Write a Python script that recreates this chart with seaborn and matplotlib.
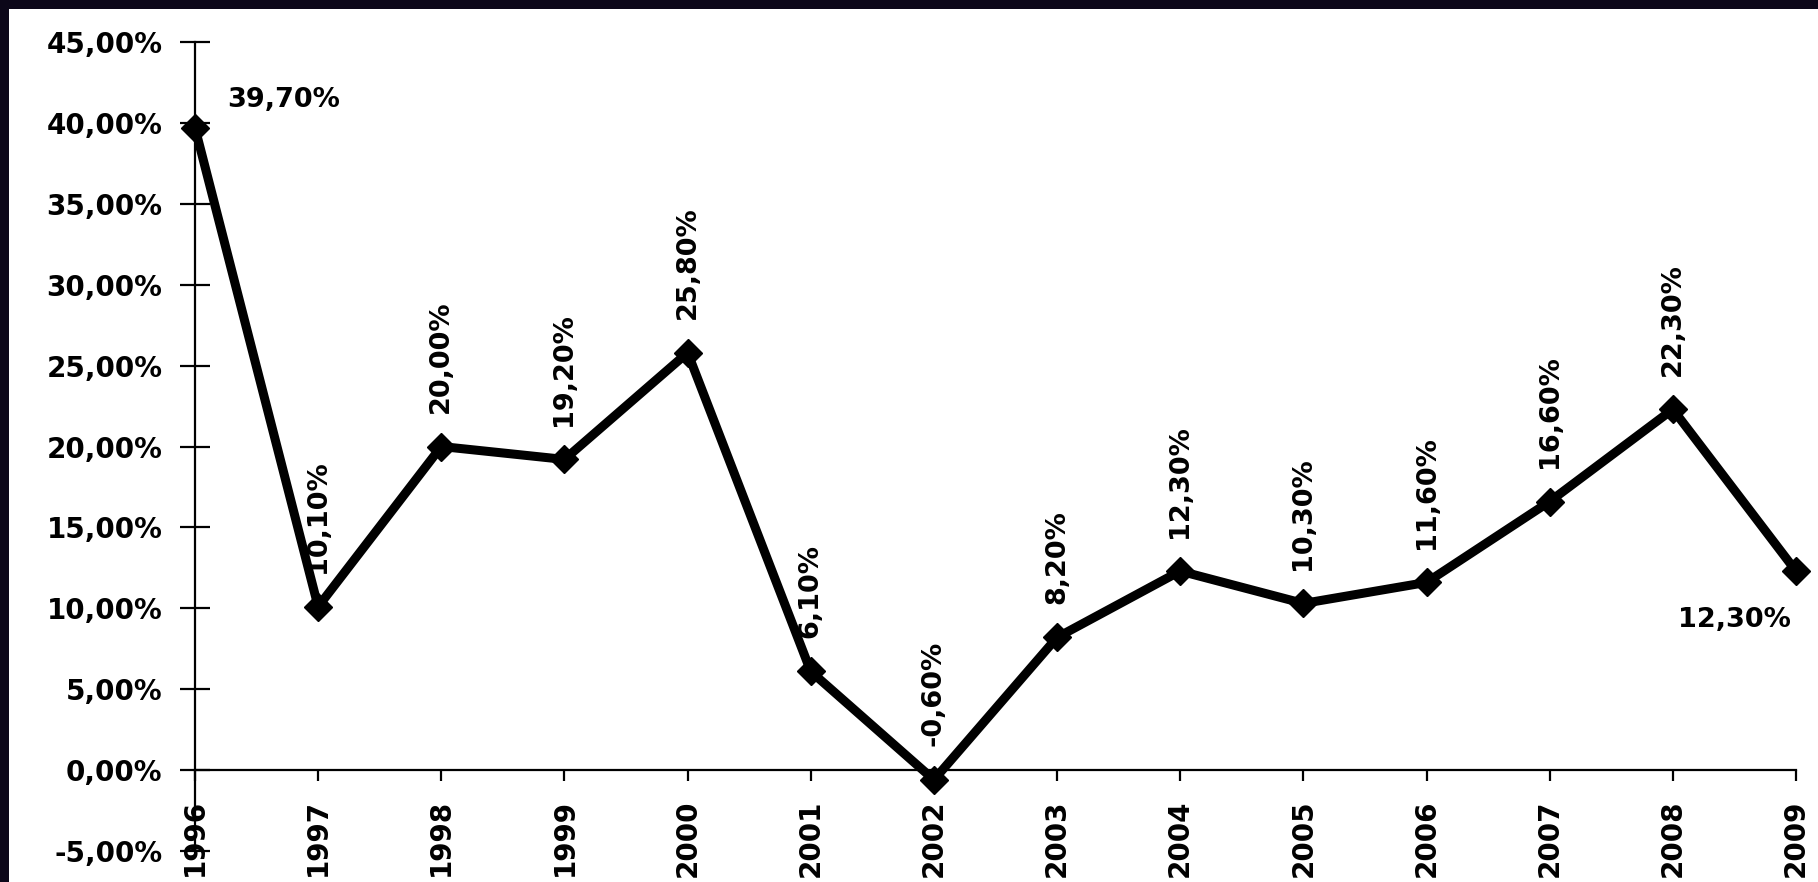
import matplotlib
matplotlib.use('Agg')
import matplotlib.pyplot as plt
from matplotlib.patches import Rectangle
import seaborn as sns

years = [1996, 1997, 1998, 1999, 2000, 2001, 2002, 2003, 2004, 2005, 2006, 2007, 2008, 2009]
growth = [39.7, 10.1, 20.0, 19.2, 25.8, 6.1, -0.6, 8.2, 12.3, 10.3, 11.6, 16.6, 22.3, 12.3]
yticks = [-5, 0, 5, 10, 15, 20, 25, 30, 35, 40, 45]


def pct(v):
    return f"{v:.2f}%".replace('.', ',')


sns.set_style('ticks')
plt.rcParams['font.family'] = ['DejaVu Sans']
plt.rcParams['text.color'] = 'black'

fig = plt.figure(figsize=(18.18, 8.82), dpi=100, facecolor='#0c0719')
# white sheet, dark frame only on top and left
fig.patches.append(Rectangle((9 / 1818, 0), 1, (882 - 9) / 882, transform=fig.transFigure,
                             facecolor='white', edgecolor='none', zorder=-5))

ax = fig.add_axes([195 / 1818, 31 / 882, 1601 / 1818, 809 / 882])
ax.set_zorder(2)
ax.set_facecolor('white')

sns.lineplot(x=years, y=growth, ax=ax, color='black', linewidth=6.5, marker='D',
             markersize=14, markeredgecolor='black', markeredgewidth=1, clip_on=False)

ax.set_xlim(1996, 2009)
ax.set_ylim(-5, 45)

ax.spines['top'].set_visible(False)
ax.spines['right'].set_visible(False)
ax.spines['bottom'].set_position(('data', 0))
for s in ['left', 'bottom']:
    ax.spines[s].set_linewidth(1.6)
    ax.spines[s].set_color('black')

ax.set_yticks(yticks)
ax.set_yticklabels([pct(v) for v in yticks], fontsize=20, fontweight='bold')
ax.set_xticks(years)
ax.set_xticklabels([str(y) for y in years], rotation=90, fontsize=20, fontweight='bold')
ax.tick_params(axis='y', direction='inout', length=21, width=1.6, pad=13, colors='black')
ax.tick_params(axis='x', direction='out', length=8, width=1.6, pad=13, colors='black')

# data labels
for i, (x, y) in enumerate(zip(years, growth)):
    if i == 0:
        ax.annotate(pct(y), (x, y), xytext=(23, 20), textcoords='offset points',
                    ha='left', va='center', fontsize=19.5, fontweight='bold', color='black')
    elif i == len(years) - 1:
        ax.annotate(pct(y), (x, y), xytext=(-4, -35), textcoords='offset points',
                    ha='right', va='center', fontsize=19.5, fontweight='bold', color='black')
    else:
        ax.annotate(pct(y), (x, y), xytext=(0, 24), textcoords='offset points',
                    rotation=90, ha='center', va='bottom', fontsize=19.5,
                    fontweight='bold', color='black')

fig.savefig('out.png', dpi=100, facecolor=fig.get_facecolor())
